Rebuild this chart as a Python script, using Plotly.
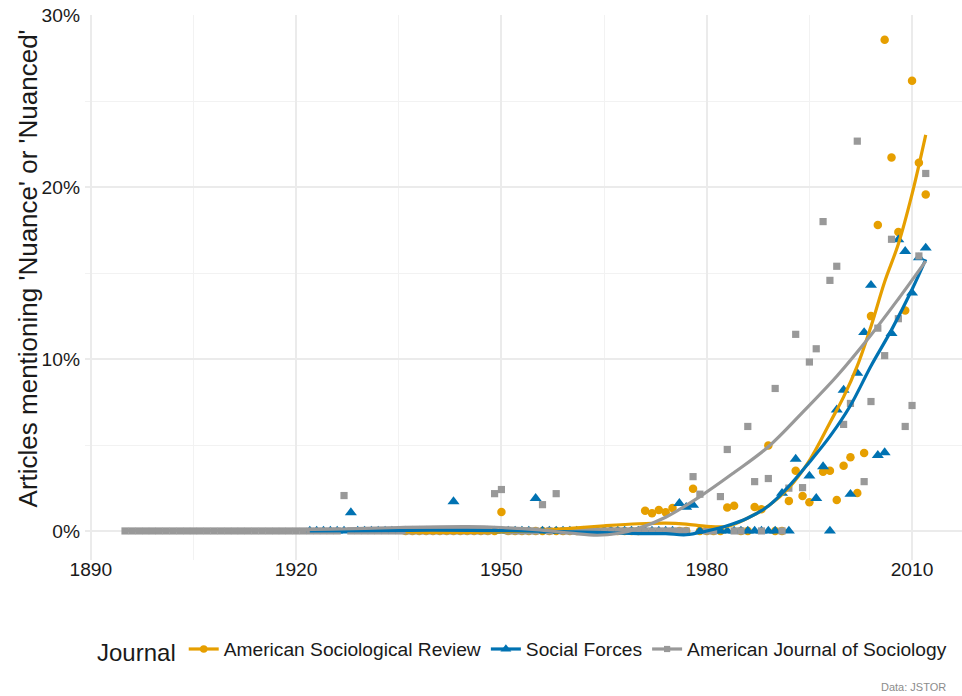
import plotly.graph_objects as go

# ---------------- data ----------------
asr_years = list(range(1936, 1996)) + list(range(1997, 2013))
asr_share = [
    0, 0, 0, 0, 0, 0, 0, 0, 0, 0, 0, 0, 0, 0,            # 1936-1949
    0.011,                                                # 1950
    0, 0, 0, 0, 0, 0, 0, 0, 0, 0, 0, 0, 0, 0, 0, 0, 0, 0, 0, 0,  # 1951-1970
    0.0118, 0.0103, 0.0122, 0.0109, 0.0134, 0, 0, 0.0245, 0, 0,   # 1971-1980
    0, 0, 0.0136, 0.0146, 0, 0, 0.014, 0.0126, 0.0497, 0,         # 1981-1990
    0, 0.0175, 0.035, 0.0204, 0.0167,                             # 1991-1995
    0.0344, 0.035, 0.018, 0.038, 0.0429, 0.0221, 0.0454, 0.125,   # 1997-2004
    0.178, 0.2858, 0.2173, 0.174, 0.1283, 0.262, 0.2142, 0.1957,  # 2005-2012
]

sf_years = list(range(1922, 1994)) + list(range(1995, 2013))
sf_share = [
    0, 0, 0, 0, 0, 0, 0.0107,                                     # 1922-1928
    0, 0, 0, 0, 0, 0, 0, 0, 0, 0, 0, 0, 0, 0, 0.0171,             # 1929-1943
    0, 0, 0, 0, 0, 0, 0, 0, 0, 0, 0, 0.019,                       # 1944-1955
    0, 0, 0, 0, 0, 0, 0, 0, 0, 0, 0, 0, 0, 0, 0, 0, 0, 0, 0, 0,   # 1956-1975
    0.0161, 0.0138, 0.0151,                                       # 1976-1978
    0, 0, 0, 0, 0, 0, 0, 0, 0, 0, 0, 0,                           # 1979-1990
    0.022, 0, 0.0418,                                             # 1991-1993
    0.032, 0.019, 0.0375, 0, 0.0705, 0.082, 0.0214, 0.0918,       # 1995-2002
    0.1155, 0.143, 0.044, 0.0456, 0.115, 0.1695, 0.1627, 0.1385,  # 2003-2010
    0.159, 0.1647,                                                # 2011-2012
]

ajs_years = list(range(1895, 2013))
ajs_share = [
    0, 0, 0, 0, 0, 0, 0, 0, 0, 0, 0, 0, 0, 0, 0, 0,               # 1895-1910
    0, 0, 0, 0, 0, 0, 0, 0, 0, 0, 0, 0, 0, 0, 0, 0,               # 1911-1926
    0.0206,                                                       # 1927
    0, 0, 0, 0, 0, 0, 0, 0, 0, 0, 0, 0, 0, 0, 0, 0, 0, 0, 0, 0, 0,  # 1928-1948
    0.0217, 0.0241, 0, 0, 0, 0, 0, 0.0153, 0, 0.0217,             # 1949-1958
    0, 0, 0, 0, 0, 0, 0, 0, 0, 0, 0, 0, 0, 0, 0, 0, 0, 0, 0,      # 1959-1977
    0.0316, 0.0214, 0, 0, 0.02, 0.0474, 0, 0, 0.0608, 0.0287,     # 1978-1987
    0, 0.0305, 0.0829, 0, 0.0249, 0.1144, 0.0252, 0.0983, 0.106,  # 1988-1996
    0.18, 0.1458, 0.154, 0.062, 0.0742, 0.2268, 0.0287, 0.0753,   # 1997-2004
    0.118, 0.102, 0.1697, 0.1235, 0.0608, 0.073, 0.16, 0.208,     # 2005-2012
]

# loess smooth curves
asr_fit_years = [1936, 1940, 1945, 1950, 1955, 1960, 1965, 1970, 1974, 1977, 1980, 1983,
                 1986, 1989, 1992, 1995, 1998, 2000, 2002, 2004, 2006, 2008, 2010, 2012]
asr_fit = [-0.0005, -0.0008, -0.0008, -0.0005, 0.0002, 0.0015, 0.003, 0.0042, 0.0046, 0.004,
           0.0027, 0.0027, 0.0075, 0.0145, 0.025, 0.041, 0.063, 0.078, 0.096, 0.119, 0.145,
           0.167, 0.196, 0.2305]

sf_fit_years = [1922, 1930, 1940, 1950, 1960, 1965, 1970, 1974, 1977, 1980, 1983, 1986,
                1989, 1992, 1995, 1998, 2001, 2004, 2007, 2010, 2012]
sf_fit = [0.0, 0.0002, 0.0004, 0.0002, -0.0005, -0.001, -0.0015, -0.0016, -0.0022, 0.0,
          0.003, 0.0075, 0.0145, 0.026, 0.04, 0.055, 0.073, 0.096, 0.117, 0.1405, 0.158]

ajs_fit_years = [1895, 1905, 1915, 1925, 1935, 1945, 1950, 1955, 1960, 1964, 1967, 1970,
                 1974, 1979, 1984, 1989, 1994, 1999, 2004, 2008, 2012]
ajs_fit = [0.0003, 0.0003, 0.0005, 0.001, 0.002, 0.0025, 0.002, 0.0008, -0.0012, -0.0025,
           -0.0015, 0.0015, 0.008, 0.020, 0.034, 0.049, 0.069, 0.090, 0.114, 0.135, 0.157]

journals = ["American Sociological Review", "Social Forces", "American Journal of Sociology"]
x_ticks = [1890, 1920, 1950, 1980, 2010]
y_ticks = [0, 0.1, 0.2, 0.3]

# ---------------- styling ----------------
FONT = "Liberation Sans, Arial, Helvetica, sans-serif"
colors = ["#E69F00", "#0072B2", "#999999"]
symbols = ["circle", "triangle-up", "square"]
msizes = [8.5, 10.5, 7.2]

series = [
    (asr_years, asr_share, asr_fit_years, asr_fit),
    (sf_years, sf_share, sf_fit_years, sf_fit),
    (ajs_years, ajs_share, ajs_fit_years, ajs_fit),
]

fig = go.Figure()

# points
for (yrs, vals, _, _), c, s, ms, name in zip(series, colors, symbols, msizes, journals):
    fig.add_trace(go.Scatter(
        x=yrs, y=vals, mode="markers", name=name, legendgroup=name, showlegend=False,
        marker=dict(color=c, symbol=s, size=ms, line=dict(width=0)),
        cliponaxis=False, hoverinfo="skip"))

# smooth lines
for (_, _, fy, fv), c, name in zip(series, colors, journals):
    fig.add_trace(go.Scatter(
        x=fy, y=fv, mode="lines", name=name, legendgroup=name, showlegend=False,
        line=dict(color=c, width=3.2, shape="spline", smoothing=1.0), hoverinfo="skip"))

# legend entries (line + point glyph)
for c, s, ms, name in zip(colors, symbols, msizes, journals):
    fig.add_trace(go.Scatter(
        x=[None], y=[None], mode="lines+markers", name=name, legendgroup=name,
        marker=dict(color=c, symbol=s, size=ms - 1, line=dict(width=0)),
        line=dict(color=c, width=3.2)))

fig.update_layout(
    width=962, height=696,
    margin=dict(l=85, r=0, t=15, b=136, autoexpand=False),
    paper_bgcolor="white", plot_bgcolor="white",
    font=dict(family=FONT, size=19, color="#1a1a1a"),
    showlegend=True,
    legend=dict(
        orientation="h", x=0.5, xanchor="center", y=-0.167, yanchor="middle",
        title=dict(text="Journal", font=dict(size=24, color="#1a1a1a"), side="left"),
        font=dict(size=19.2, color="#1a1a1a"),
        itemwidth=30, tracegroupgap=0, bgcolor="rgba(0,0,0,0)"),
    xaxis=dict(
        range=[1889.15, 2017.3], tickvals=x_ticks, ticktext=[str(v) for v in x_ticks],
        showgrid=True, gridcolor="#EBEBEB", gridwidth=1.6, zeroline=False,
        showline=False, ticks="", automargin=False, ticklabelstandoff=-4,
        tickfont=dict(size=19.2, color="#1a1a1a"),
        minor=dict(tickvals=[1905, 1935, 1965, 1995], showgrid=True,
                   gridcolor="#F2F2F2", gridwidth=0.9, ticks="")),
    yaxis=dict(
        range=[-0.0169, 0.3002], tickvals=y_ticks, tickformat=".0%",
        showgrid=True, gridcolor="#EBEBEB", gridwidth=1.6, zeroline=False,
        showline=False, ticks="", automargin=False, ticklabelstandoff=4,
        tickfont=dict(size=19.2, color="#1a1a1a"),
        minor=dict(tickvals=[0.05, 0.15, 0.25], showgrid=True,
                   gridcolor="#F2F2F2", gridwidth=0.9, ticks="")),
    annotations=[
        dict(text="Articles mentioning 'Nuance' or 'Nuanced'", textangle=-90,
             xref="paper", yref="paper", x=(28 - 85) / 877, y=0.535,
             xanchor="center", yanchor="middle", showarrow=False,
             font=dict(size=26, color="#1a1a1a")),
        dict(text="Data: JSTOR", xref="paper", yref="paper",
             x=(948 - 85) / 877, y=(560 - 687) / 545, xanchor="right", yanchor="middle",
             showarrow=False, font=dict(size=11, color="#8c8c8c")),
    ],
)

fig.write_html("out.html", config={"displayModeBar": False},
               post_script="document.body.style.margin='0px';")
